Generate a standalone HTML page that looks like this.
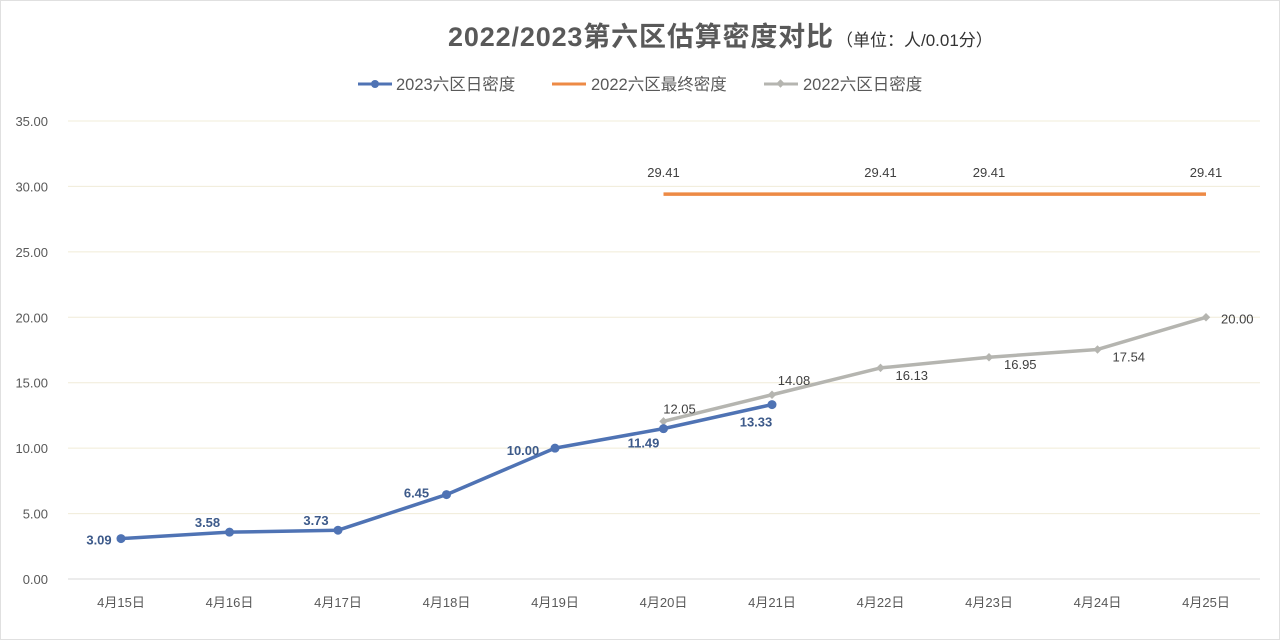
<!DOCTYPE html>
<html><head><meta charset="utf-8">
<style>
body{margin:0;background:#fff;}
svg{display:block;font-family:"Liberation Sans","Noto Sans CJK SC",sans-serif;}
</style></head>
<body>
<svg id="chart" width="1280" height="640" viewBox="0 0 1280 640">
<rect x="0.5" y="0.5" width="1279" height="639" fill="#fff" stroke="#e0e0e0"/>
<text x="448" y="46" text-anchor="start" font-size="27" font-weight="bold" fill="#595959" textLength="385">2022/2023第六区估算密度对比</text>
<text x="836" y="46" font-size="17" fill="#333">（单位：人/0.01分）</text>
<g>
<g><line x1="358" y1="84" x2="392" y2="84" stroke="#4f73b4" stroke-width="3"/><circle cx="375" cy="84" r="4" fill="#4f73b4"/><text x="396" y="90" font-size="16.5" fill="#595959">2023六区日密度</text></g>
<g><line x1="552" y1="84" x2="586" y2="84" stroke="#ed8a45" stroke-width="3"/><text x="591" y="90" font-size="16.5" fill="#595959">2022六区最终密度</text></g>
<g><line x1="764" y1="84" x2="798" y2="84" stroke="#b5b5b0" stroke-width="3"/><rect x="777.5" y="80.5" width="6" height="6" transform="rotate(45 780.5 83.5)" fill="#b5b5b0"/><text x="803" y="90" font-size="16.5" fill="#595959">2022六区日密度</text></g>
</g>
<g id="grid"></g><g id="axes"></g><g id="series"></g>
</svg>
<script>
const categories=["4月15日","4月16日","4月17日","4月18日","4月19日","4月20日","4月21日","4月22日","4月23日","4月24日","4月25日"];
const yTicks=[0,5,10,15,20,25,30,35];
const blue2023=[3.09,3.58,3.73,6.45,10.00,11.49,13.33,null,null,null,null];
const final2022=[null,null,null,null,null,29.41,29.41,29.41,29.41,29.41,29.41];
const finalLabels=[null,null,null,null,null,"29.41",null,"29.41","29.41",null,"29.41"];
const gray2022=[null,null,null,null,null,12.05,14.08,16.13,16.95,17.54,20.00];
const NS="http://www.w3.org/2000/svg";
const x0=121,xStep=108.5,y0=579,yTop=121,yMax=35;
const xs=i=>x0+i*xStep;
const ys=v=>y0-(v/yMax)*(y0-yTop);
function mk(tag,attrs,parent,txt){const e=document.createElementNS(NS,tag);for(const k in attrs)e.setAttribute(k,attrs[k]);if(txt!=null)e.textContent=txt;parent.appendChild(e);return e;}
const grid=document.getElementById('grid'),axes=document.getElementById('axes'),ser=document.getElementById('series');
yTicks.forEach(t=>{
 const l=mk('line',{x1:68,x2:1260,y1:ys(t),y2:ys(t),stroke:t===0?'#d9d9d9':'#f0ecd8','stroke-width':1},grid);
 
 
 const tx=mk('text',{x:48,y:ys(t)+5,'text-anchor':'end','font-size':13,fill:'#595959'},axes,t.toFixed(2));
 
 
});
categories.forEach((c,i)=>{
 const tx=mk('text',{x:xs(i),y:607,'text-anchor':'middle','font-size':13,fill:'#595959'},axes,c);
 
 
});
function line(arr,color,name){
 const pts=[];arr.forEach((v,i)=>{if(v!=null)pts.push(xs(i)+','+ys(v));});
 const p=mk('polyline',{points:pts.join(' '),fill:'none',stroke:color,'stroke-width':3.5,'stroke-linejoin':'round'},ser);
 
 
}
line(final2022,'#ed8a45','line-2022-final');
finalLabels.forEach((s,i)=>{if(s){const t=mk('text',{x:xs(i),y:ys(final2022[i])-17,'text-anchor':'middle','font-size':13,fill:'#404040'},ser,s);
 
 }});
line(gray2022,'#b5b5b0','line-2022-daily');
gray2022.forEach((v,i)=>{if(v==null)return;
 const m=mk('rect',{x:xs(i)-3,y:ys(v)-3,width:6,height:6,fill:'#b5b5b0',transform:`rotate(45 ${xs(i)} ${ys(v)})`},ser);
 
 
 const first=i===5;
 const t=mk('text',{x:first?xs(i)+16:xs(i)+17,y:first?ys(v)-8:(i===6?ys(v)-10:ys(v)+5),'text-anchor':first||i===6?'middle':'start','font-size':13,fill:'#404040'},ser,v.toFixed(2));
 if(i===6){t.setAttribute('x',xs(i)+22);}
 if(i>=7){t.setAttribute('x',xs(i)+15);t.setAttribute('y',ys(v)+(i===10?6:12));}
 
 
});
line(blue2023,'#4f73b4','line-2023-daily');
blue2023.forEach((v,i)=>{if(v==null)return;
 const c=mk('circle',{cx:xs(i),cy:ys(v),r:4.5,fill:'#4f73b4'},ser);
 
 
 let dx=-22,dy=-5;
 if(i===0){dx=-22;dy=6;}
 if(i===5){dx=-20;dy=19;}
 if(i===6){dx=-16;dy=22;}
 if(i===4){dx=-32;dy=7;}
 if(i===3){dx=-30;dy=3;}
 const t=mk('text',{x:xs(i)+dx,y:ys(v)+dy,'text-anchor':'middle','font-size':13,'font-weight':'bold',fill:'#3d5a8a'},ser,v.toFixed(2));
 
 
});
</script>
</body></html>
